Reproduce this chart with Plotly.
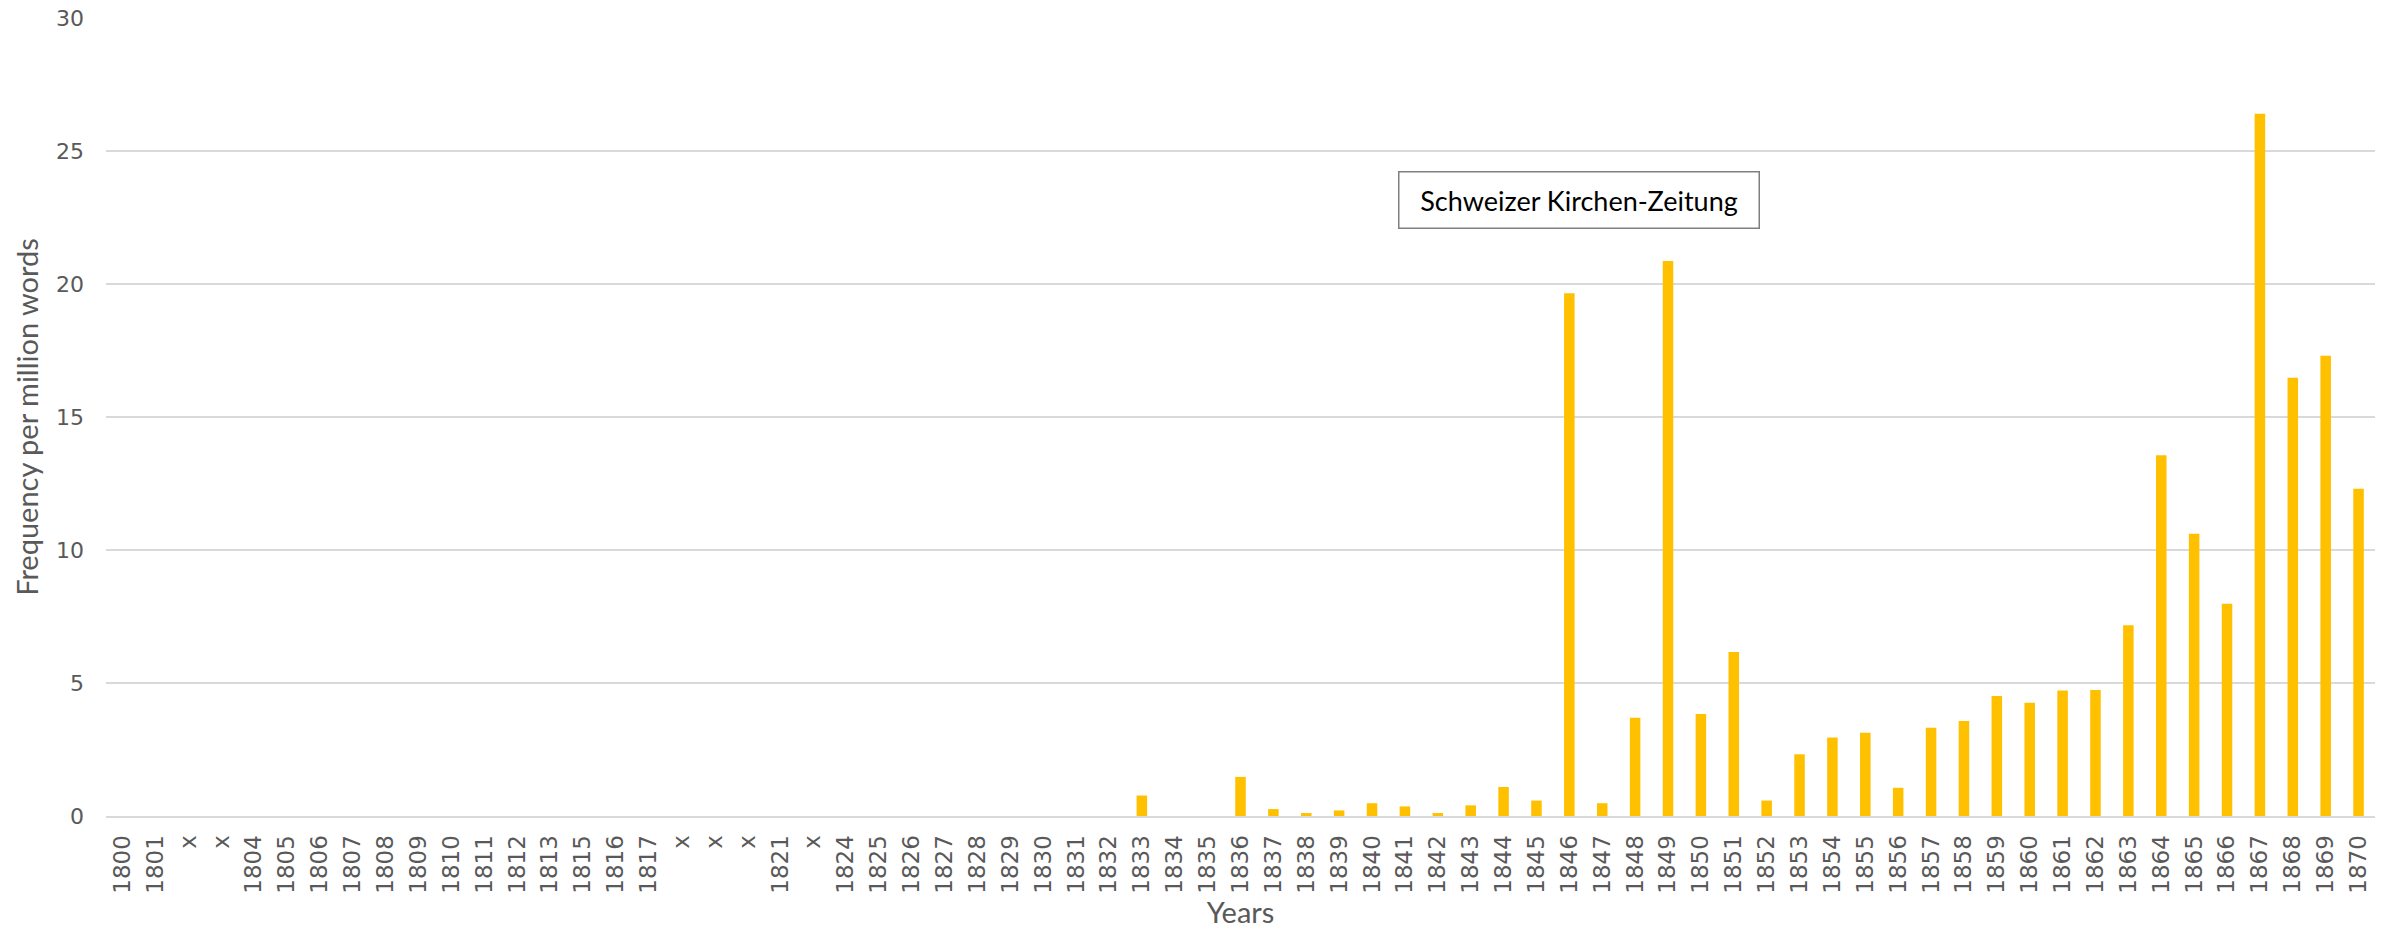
import plotly.graph_objects as go

# Tick labels along the year axis ("x" marks years without a sample)
year_labels = (
    ["1800", "1801", "x", "x"]
    + [str(y) for y in range(1804, 1814)]
    + ["1815", "1816", "1817", "x", "x", "x", "1821", "x"]
    + [str(y) for y in range(1824, 1871)]
)

# Frequency per million words for each labelled position
early_zeros = [0.0] * 31  # 1800 .. 1832
frequency = early_zeros + [
    0.77,  # 1833
    0.0,   # 1834
    0.0,   # 1835
    1.47,  # 1836
    0.26,  # 1837
    0.11,  # 1838
    0.21,  # 1839
    0.48,  # 1840
    0.36,  # 1841
    0.11,  # 1842
    0.40,  # 1843
    1.09,  # 1844
    0.58,  # 1845
    19.65, # 1846
    0.48,  # 1847
    3.69,  # 1848
    20.86, # 1849
    3.83,  # 1850
    6.17,  # 1851
    0.58,  # 1852
    2.32,  # 1853
    2.95,  # 1854
    3.13,  # 1855
    1.06,  # 1856
    3.32,  # 1857
    3.57,  # 1858
    4.51,  # 1859
    4.26,  # 1860
    4.72,  # 1861
    4.74,  # 1862
    7.17,  # 1863
    13.56, # 1864
    10.61, # 1865
    7.98,  # 1866
    26.4,  # 1867
    16.48, # 1868
    17.3,  # 1869
    12.3,  # 1870
]

y_ticks = [0, 5, 10, 15, 20, 25, 30]
positions = list(range(len(year_labels)))

fig = go.Figure(
    go.Bar(
        x=positions,
        y=frequency,
        marker=dict(color="#FFC000", line=dict(width=0)),
        width=0.32,
        hoverinfo="x+y",
    )
)

title_font = dict(family="Lato", size=29, color="#595959")

fig.update_layout(
    width=2392,
    height=930,
    margin=dict(l=106, r=17, t=18, b=114),
    paper_bgcolor="white",
    plot_bgcolor="white",
    showlegend=False,
    xaxis=dict(
        tickmode="array",
        tickvals=positions,
        ticktext=year_labels,
        tickangle=-90,
        tickfont=dict(family="DejaVu Sans", size=23, color="#595959"),
        range=[-0.5, len(year_labels) - 0.5],
        showgrid=False,
        zeroline=False,
        showline=True,
        linecolor="#D9D9D9",
        linewidth=2,
        ticks="",
        ticklabelstandoff=8,
        automargin=False,
        title=dict(text="Years", font=title_font, standoff=8),
    ),
    yaxis=dict(
        range=[0, 30],
        tickvals=y_ticks,
        tickfont=dict(family="DejaVu Sans", size=22, color="#595959"),
        showgrid=True,
        gridcolor="#D9D9D9",
        gridwidth=1.5,
        zeroline=False,
        showline=False,
        ticks="",
        ticklabelstandoff=21,
        automargin=False,
        title=dict(text="Frequency per million words", font=title_font, standoff=8),
    ),
    annotations=[
        dict(
            text="Schweizer Kirchen-Zeitung",
            xref="paper",
            yref="paper",
            x=0.649,
            y=0.772,
            xanchor="center",
            yanchor="middle",
            showarrow=False,
            font=dict(family="Lato", size=27, color="#000000"),
            bgcolor="white",
            bordercolor="#7F7F7F",
            borderwidth=1.5,
            borderpad=2,
            width=355,
            height=51,
            align="center",
            valign="middle",
        )
    ],
)

fig.write_html("out.html")
